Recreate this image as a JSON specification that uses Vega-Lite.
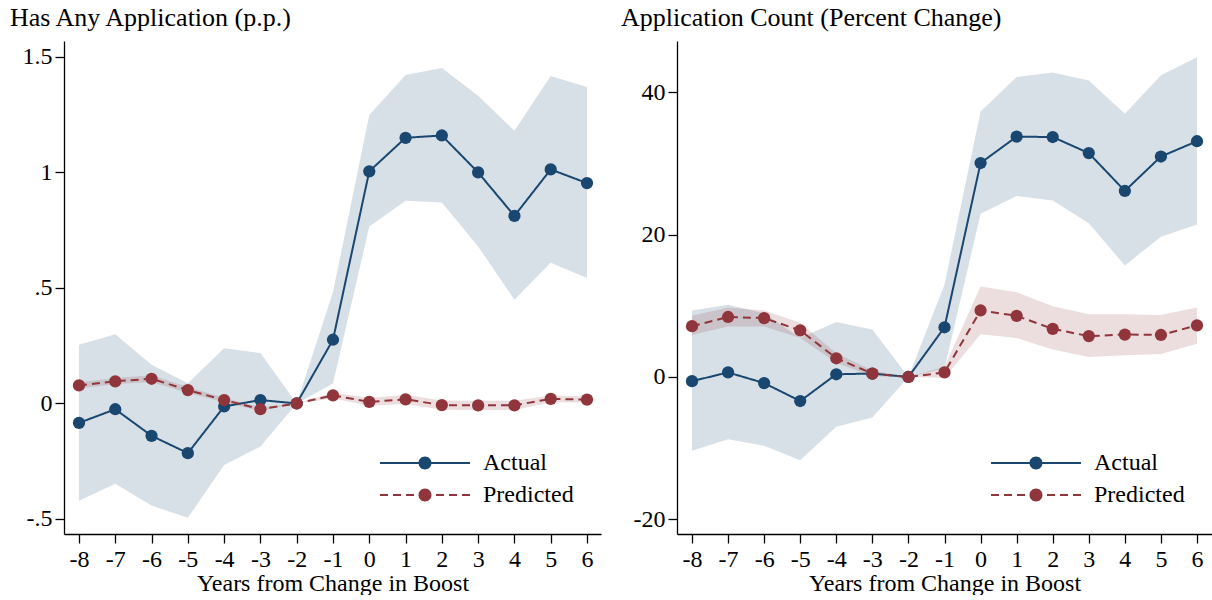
{
  "$schema": "https://vega.github.io/schema/vega-lite/v6.json",
  "background": "white",
  "padding": {"left": 10, "top": 5, "right": 0, "bottom": 0},
  "spacing": 9,
  "config": {
    "view": {"stroke": null},
    "font": "Liberation Serif",
    "axis": {
      "grid": false,
      "domainColor": "black",
      "domainWidth": 1.3,
      "tickColor": "black",
      "tickWidth": 1.3,
      "tickSize": 9,
      "labelFont": "Liberation Serif",
      "labelFontSize": 24,
      "labelColor": "black",
      "labelPadding": 3,
      "titleFont": "Liberation Serif",
      "titleFontSize": 24,
      "titleFontWeight": "normal",
      "titleColor": "black",
      "titlePadding": 0
    },
    "axisX": {"labelPadding": 4},
    "legend": {"labelFont": "Liberation Serif", "labelFontSize": 24, "labelColor": "black"},
    "title": {"font": "Liberation Serif", "fontSize": 26, "fontWeight": "normal", "color": "black", "anchor": "start", "frame": "group", "offset": 10, "baseline": "alphabetic"}
  },
  "datasets": {
    "left": [
      {"x": -8, "series": "Actual", "y": -0.084, "lo": -0.421, "hi": 0.254},
      {"x": -7, "series": "Actual", "y": -0.025, "lo": -0.348, "hi": 0.300},
      {"x": -6, "series": "Actual", "y": -0.140, "lo": -0.442, "hi": 0.168},
      {"x": -5, "series": "Actual", "y": -0.215, "lo": -0.495, "hi": 0.088},
      {"x": -4, "series": "Actual", "y": -0.013, "lo": -0.266, "hi": 0.239},
      {"x": -3, "series": "Actual", "y": 0.015, "lo": -0.186, "hi": 0.218},
      {"x": -2, "series": "Actual", "y": 0, "lo": 0, "hi": 0},
      {"x": -1, "series": "Actual", "y": 0.276, "lo": 0.086, "hi": 0.482},
      {"x": 0, "series": "Actual", "y": 1.005, "lo": 0.766, "hi": 1.249},
      {"x": 1, "series": "Actual", "y": 1.150, "lo": 0.878, "hi": 1.422},
      {"x": 2, "series": "Actual", "y": 1.160, "lo": 0.870, "hi": 1.452},
      {"x": 3, "series": "Actual", "y": 1.000, "lo": 0.680, "hi": 1.332},
      {"x": 4, "series": "Actual", "y": 0.812, "lo": 0.449, "hi": 1.180},
      {"x": 5, "series": "Actual", "y": 1.013, "lo": 0.609, "hi": 1.417},
      {"x": 6, "series": "Actual", "y": 0.954, "lo": 0.543, "hi": 1.370},
      {"x": -8, "series": "Predicted", "y": 0.078, "lo": 0.065, "hi": 0.092},
      {"x": -7, "series": "Predicted", "y": 0.096, "lo": 0.083, "hi": 0.110},
      {"x": -6, "series": "Predicted", "y": 0.107, "lo": 0.093, "hi": 0.122},
      {"x": -5, "series": "Predicted", "y": 0.058, "lo": 0.045, "hi": 0.071},
      {"x": -4, "series": "Predicted", "y": 0.015, "lo": 0.005, "hi": 0.025},
      {"x": -3, "series": "Predicted", "y": -0.025, "lo": -0.033, "hi": -0.017},
      {"x": -2, "series": "Predicted", "y": 0, "lo": 0, "hi": 0},
      {"x": -1, "series": "Predicted", "y": 0.035, "lo": 0.022, "hi": 0.048},
      {"x": 0, "series": "Predicted", "y": 0.007, "lo": -0.010, "hi": 0.024},
      {"x": 1, "series": "Predicted", "y": 0.018, "lo": -0.002, "hi": 0.038},
      {"x": 2, "series": "Predicted", "y": -0.007, "lo": -0.027, "hi": 0.013},
      {"x": 3, "series": "Predicted", "y": -0.008, "lo": -0.028, "hi": 0.012},
      {"x": 4, "series": "Predicted", "y": -0.008, "lo": -0.028, "hi": 0.012},
      {"x": 5, "series": "Predicted", "y": 0.020, "lo": 0.005, "hi": 0.035},
      {"x": 6, "series": "Predicted", "y": 0.017, "lo": 0.004, "hi": 0.030}
    ],
    "right": [
      {"x": -8, "series": "Actual", "y": -0.59, "lo": -10.36, "hi": 9.34},
      {"x": -7, "series": "Actual", "y": 0.64, "lo": -8.75, "hi": 10.14},
      {"x": -6, "series": "Actual", "y": -0.86, "lo": -9.66, "hi": 8.96},
      {"x": -5, "series": "Actual", "y": -3.38, "lo": -11.70, "hi": 5.48},
      {"x": -4, "series": "Actual", "y": 0.38, "lo": -6.98, "hi": 7.73},
      {"x": -3, "series": "Actual", "y": 0.48, "lo": -5.69, "hi": 6.66},
      {"x": -2, "series": "Actual", "y": 0, "lo": 0, "hi": 0},
      {"x": -1, "series": "Actual", "y": 6.98, "lo": 1.2, "hi": 12.99},
      {"x": 0, "series": "Actual", "y": 30.06, "lo": 22.92, "hi": 37.31},
      {"x": 1, "series": "Actual", "y": 33.76, "lo": 25.44, "hi": 42.14},
      {"x": 2, "series": "Actual", "y": 33.71, "lo": 24.80, "hi": 42.78},
      {"x": 3, "series": "Actual", "y": 31.45, "lo": 21.58, "hi": 41.65},
      {"x": 4, "series": "Actual", "y": 26.14, "lo": 15.67, "hi": 36.98},
      {"x": 5, "series": "Actual", "y": 30.97, "lo": 19.70, "hi": 42.40},
      {"x": 6, "series": "Actual", "y": 33.12, "lo": 21.42, "hi": 44.93},
      {"x": -8, "series": "Predicted", "y": 7.14, "lo": 5.90, "hi": 8.59},
      {"x": -7, "series": "Predicted", "y": 8.43, "lo": 7.09, "hi": 9.77},
      {"x": -6, "series": "Predicted", "y": 8.27, "lo": 7.09, "hi": 9.34},
      {"x": -5, "series": "Predicted", "y": 6.55, "lo": 5.48, "hi": 7.62},
      {"x": -4, "series": "Predicted", "y": 2.63, "lo": 1.99, "hi": 3.33},
      {"x": -3, "series": "Predicted", "y": 0.48, "lo": 0.10, "hi": 0.91},
      {"x": -2, "series": "Predicted", "y": 0, "lo": 0, "hi": 0},
      {"x": -1, "series": "Predicted", "y": 0.64, "lo": -0.16, "hi": 1.45},
      {"x": 0, "series": "Predicted", "y": 9.34, "lo": 6.01, "hi": 12.72},
      {"x": 1, "series": "Predicted", "y": 8.59, "lo": 5.48, "hi": 11.92},
      {"x": 2, "series": "Predicted", "y": 6.76, "lo": 3.86, "hi": 9.93},
      {"x": 3, "series": "Predicted", "y": 5.74, "lo": 2.79, "hi": 8.80},
      {"x": 4, "series": "Predicted", "y": 5.96, "lo": 3.06, "hi": 8.80},
      {"x": 5, "series": "Predicted", "y": 5.90, "lo": 3.22, "hi": 8.70},
      {"x": 6, "series": "Predicted", "y": 7.25, "lo": 4.67, "hi": 9.77}
    ]
  },
  "resolve": {
    "scale": {"x": "independent", "y": "independent", "color": "independent", "strokeDash": "independent", "fill": "independent", "stroke": "independent", "shape": "independent"},
    "legend": {"color": "independent", "strokeDash": "independent", "fill": "independent", "stroke": "independent", "shape": "independent"}
  },
  "hconcat": [
    {
      "width": 537,
      "height": 493,
      "title": {"text": "Has Any Application (p.p.)", "dx": -54},
      "data": {"name": "left"},
      "encoding": {
        "x": {"field": "x", "type": "quantitative", "title": "Years from Change in Boost",
          "scale": {"domain": [-8.413, 6.386], "nice": false, "zero": false},
          "axis": {"values": [-8, -7, -6, -5, -4, -3, -2, -1, 0, 1, 2, 3, 4, 5, 6], "labelExpr": "toString(datum.value)"}}
      },
      "layer": [
        {
          "mark": {"type": "area", "opacity": 0.17},
          "encoding": {
            "y": {"field": "lo", "type": "quantitative", "title": null,
              "scale": {"domain": [-0.565, 1.569], "nice": false, "zero": false},
              "axis": {"values": [-0.5, 0, 0.5, 1, 1.5], "labelExpr": "replace(toString(datum.value), '0.5', '.5')"}},
            "y2": {"field": "hi"},
            "fill": {"field": "series", "type": "nominal", "scale": {"domain": ["Predicted", "Actual"], "range": ["#90353b", "#1a476f"]}, "legend": null}
          }
        },
        {
          "data": {"values": [{}]},
          "mark": {"type": "rule", "color": "#8a8a8a", "strokeWidth": 1.5},
          "encoding": {"y": {"datum": 0, "type": "quantitative"}}
        },
        {
          "data": {"values": [{}]},
          "mark": {"type": "rule", "color": "#8a8a8a", "strokeWidth": 1.5},
          "encoding": {"x": {"datum": -2, "type": "quantitative"}}
        },
        {
          "mark": {"type": "line", "strokeWidth": 2},
          "encoding": {
            "y": {"field": "y", "type": "quantitative"},
            "stroke": {"field": "series", "type": "nominal", "scale": {"domain": ["Predicted", "Actual"], "range": ["#90353b", "#1a476f"]}, "legend": null},
            "strokeDash": {"field": "series", "type": "nominal", "scale": {"domain": ["Predicted", "Actual"], "range": [[8, 5], [1, 0]]}, "legend": null}
          }
        },
        {
          "mark": {"type": "point", "filled": true, "size": 150, "opacity": 1},
          "encoding": {
            "y": {"field": "y", "type": "quantitative"},
            "fill": {"field": "series", "type": "nominal", "scale": {"domain": ["Predicted", "Actual"], "range": ["#90353b", "#1a476f"]}, "legend": null}
          }
        },
        {
          "mark": {"type": "point", "filled": true, "opacity": 0},
          "encoding": {
            "y": {"field": "y", "type": "quantitative"},
            "color": {"field": "series", "type": "nominal", "scale": {"domain": ["Actual", "Predicted"], "range": ["#1a476f", "#90353b"]},
              "legend": {"title": null, "orient": "bottom-right", "offset": 27, "padding": 0, "symbolSize": 100, "symbolOpacity": 1, "labelOffset": 46, "rowPadding": 8}},
            "shape": {"field": "series", "type": "nominal", "scale": {"domain": ["Actual", "Predicted"], "range": [
                "M-9,-0.2H9V0.2H-9Z M1.3,0A1.3,1.3,0,1,1,-1.3,0A1.3,1.3,0,1,1,1.3,0Z",
                "M-9,-0.2H-7.4V0.2H-9Z M-6.4,-0.2H-4.8V0.2H-6.4Z M-3.8,-0.2H-2.2V0.2H-3.8Z M2.2,-0.2H3.8V0.2H2.2Z M4.8,-0.2H6.4V0.2H4.8Z M7.4,-0.2H9V0.2H7.4Z M1.3,0A1.3,1.3,0,1,1,-1.3,0A1.3,1.3,0,1,1,1.3,0Z"]},
              "legend": {"title": null, "orient": "bottom-right", "offset": 27, "padding": 0, "symbolSize": 100, "symbolOpacity": 1, "labelOffset": 46, "rowPadding": 8}}
          }
        }
      ]
    },
    {
      "width": 535,
      "height": 493,
      "title": {"text": "Application Count (Percent Change)", "dx": -56},
      "data": {"name": "right"},
      "encoding": {
        "x": {"field": "x", "type": "quantitative", "title": "Years from Change in Boost",
          "scale": {"domain": [-8.416, 6.416], "nice": false, "zero": false},
          "axis": {"values": [-8, -7, -6, -5, -4, -3, -2, -1, 0, 1, 2, 3, 4, 5, 6], "labelExpr": "toString(datum.value)"}}
      },
      "layer": [
        {
          "mark": {"type": "area", "opacity": 0.17},
          "encoding": {
            "y": {"field": "lo", "type": "quantitative", "title": null,
              "scale": {"domain": [-22.06, 47.2], "nice": false, "zero": false},
              "axis": {"values": [-20, 0, 20, 40], "labelExpr": "toString(datum.value)"}},
            "y2": {"field": "hi"},
            "fill": {"field": "series", "type": "nominal", "scale": {"domain": ["Predicted", "Actual"], "range": ["#90353b", "#1a476f"]}, "legend": null}
          }
        },
        {
          "data": {"values": [{}]},
          "mark": {"type": "rule", "color": "#8a8a8a", "strokeWidth": 1.5},
          "encoding": {"y": {"datum": 0, "type": "quantitative"}}
        },
        {
          "data": {"values": [{}]},
          "mark": {"type": "rule", "color": "#8a8a8a", "strokeWidth": 1.5},
          "encoding": {"x": {"datum": -2, "type": "quantitative"}}
        },
        {
          "mark": {"type": "line", "strokeWidth": 2},
          "encoding": {
            "y": {"field": "y", "type": "quantitative"},
            "stroke": {"field": "series", "type": "nominal", "scale": {"domain": ["Predicted", "Actual"], "range": ["#90353b", "#1a476f"]}, "legend": null},
            "strokeDash": {"field": "series", "type": "nominal", "scale": {"domain": ["Predicted", "Actual"], "range": [[8, 5], [1, 0]]}, "legend": null}
          }
        },
        {
          "mark": {"type": "point", "filled": true, "size": 150, "opacity": 1},
          "encoding": {
            "y": {"field": "y", "type": "quantitative"},
            "fill": {"field": "series", "type": "nominal", "scale": {"domain": ["Predicted", "Actual"], "range": ["#90353b", "#1a476f"]}, "legend": null}
          }
        },
        {
          "mark": {"type": "point", "filled": true, "opacity": 0},
          "encoding": {
            "y": {"field": "y", "type": "quantitative"},
            "color": {"field": "series", "type": "nominal", "scale": {"domain": ["Actual", "Predicted"], "range": ["#1a476f", "#90353b"]},
              "legend": {"title": null, "orient": "bottom-right", "offset": 27, "padding": 0, "symbolSize": 100, "symbolOpacity": 1, "labelOffset": 46, "rowPadding": 8}},
            "shape": {"field": "series", "type": "nominal", "scale": {"domain": ["Actual", "Predicted"], "range": [
                "M-9,-0.2H9V0.2H-9Z M1.3,0A1.3,1.3,0,1,1,-1.3,0A1.3,1.3,0,1,1,1.3,0Z",
                "M-9,-0.2H-7.4V0.2H-9Z M-6.4,-0.2H-4.8V0.2H-6.4Z M-3.8,-0.2H-2.2V0.2H-3.8Z M2.2,-0.2H3.8V0.2H2.2Z M4.8,-0.2H6.4V0.2H4.8Z M7.4,-0.2H9V0.2H7.4Z M1.3,0A1.3,1.3,0,1,1,-1.3,0A1.3,1.3,0,1,1,1.3,0Z"]},
              "legend": {"title": null, "orient": "bottom-right", "offset": 27, "padding": 0, "symbolSize": 100, "symbolOpacity": 1, "labelOffset": 46, "rowPadding": 8}}
          }
        }
      ]
    }
  ]
}
